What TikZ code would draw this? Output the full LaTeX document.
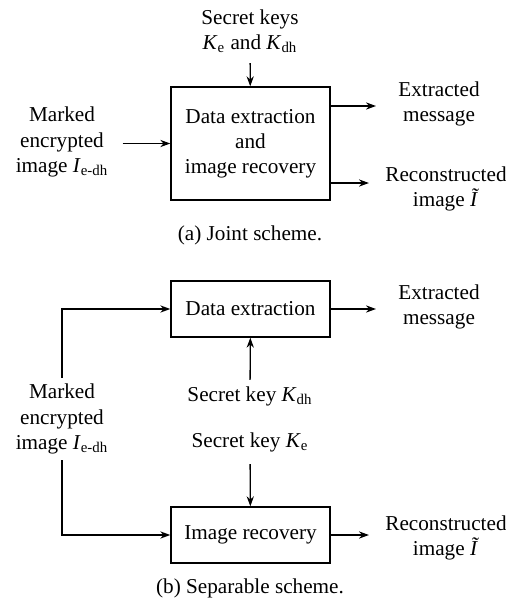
\documentclass[tikz,border=0pt]{standalone}
\usepackage{fontspec}
\setmainfont{Liberation Serif}
\usetikzlibrary{calc,arrows.meta}
\tikzset {>={Stealth[length=5pt,width=3.6pt]}}
\newcommand\Kk[1]{\textit{K}\textsubscript{#1}}
\newcommand\Ii[1]{\textit{I}\textsubscript{#1}}

\begin{document}
\begin{tikzpicture}[x=0.5pt,y=-0.5pt,
  block/.style={draw,line width=0.7pt,minimum width=79.5pt,align=center,inner sep=0pt,font=\fontsize{10.6}{12.6}\selectfont},
  txt/.style={align=center,inner sep=3pt,font=\fontsize{10.6}{12.6}\selectfont},
  arr/.style={->,line width=0.65pt}]
\useasboundingbox (0,0) rectangle (506,601);
% (a) joint scheme
\node[block,minimum height=56.5pt] (joint) at (250.5,143.5) {Data extraction\\and\\image recovery};
\node[txt] (keys) at (250,31) {Secret keys\\\Kk{e} and \Kk{dh}};
\node[txt] (mark1) at (62,142) {Marked\\encrypted\\image \Ii{e-dh}};
\node[txt] (msg1) at (439,104) {Extracted\\message};
\node[txt] (rec1) at (446,189) {Reconstructed\\image \textit{Ĩ}};
\node[txt] (capa) at (250,235) {(a) Joint scheme.};
\draw[arr,shorten <=2pt] (keys) -- (joint);
\draw[arr,shorten <=4pt] (mark1.east |- joint.west) -- (joint.west);
\draw[arr,shorten >=8pt] ([yshift=18.75pt]joint.east) -- ([yshift=18.75pt]joint.east -| msg1.west);
\draw[arr,shorten >=5pt] ([yshift=-19.75pt]joint.east) -- ([yshift=-19.75pt]joint.east -| rec1.west);
% (b) separable scheme
\node[block,minimum height=28pt] (extr) at (250.5,309) {Data extraction};
\node[block,minimum height=28pt] (recov) at (250.5,535) {Image recovery};
\node[txt] (mark2) at (62,419) {Marked\\encrypted\\image \Ii{e-dh}};
\node[txt] (kdh) at (250,396) {Secret key \Kk{dh}};
\node[txt] (ke) at (250,442) {Secret key \Kk{e}};
\node[txt] (msg2) at (439,307) {Extracted\\message};
\node[txt] (rec2) at (446,538) {Reconstructed\\image \textit{Ĩ}};
\node[txt] (capb) at (250,588) {(b) Separable scheme.};
\draw[arr] (mark2.north) |- (extr.west);
\draw[arr] (mark2.south) |- (recov.west);
\draw[arr] (kdh) -- (extr);
\draw[arr,shorten <=3pt] (ke) -- (recov);
\draw[arr,shorten >=8pt] (extr.east) -- (extr.east -| msg2.west);
\draw[arr,shorten >=5pt] (recov.east) -- (recov.east -| rec2.west);
\end{tikzpicture}
\end{document}
